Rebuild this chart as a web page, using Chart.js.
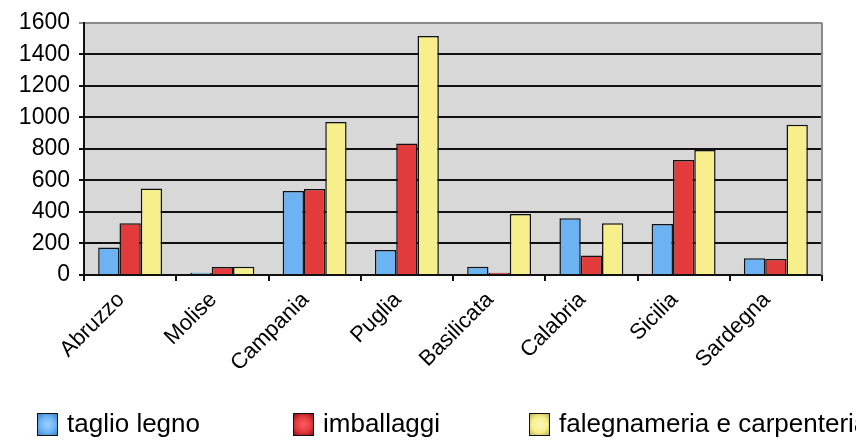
<!DOCTYPE html>
<html>
<head>
<meta charset="utf-8">
<script src="https://cdn.jsdelivr.net/npm/chart.js@4/dist/chart.umd.min.js"></script>
<style>
  html, body { margin: 0; padding: 0; background: #fff; }
  #wrap { position: relative; width: 856px; height: 441px; overflow: hidden; }
  #legend { position: absolute; left: 0; top: 0; width: 856px; height: 441px; pointer-events: none; }
  .item { position: absolute; top: 406px; white-space: nowrap; font-family: "Liberation Sans", Arial, sans-serif; font-size: 26px; color: #000; }
  .item .box { position: absolute; left: 0; top: 7px; width: 21px; height: 23px; border: 1.5px solid #111; box-sizing: border-box; }
  .item .txt { position: absolute; left: 30px; top: 0; line-height: 34px; }
</style>
</head>
<body>
<div id="wrap">
  <canvas id="chart" width="856" height="441"></canvas>
  <div id="legend"></div>
</div>
<script>
const regions = ["Abruzzo", "Molise", "Campania", "Puglia", "Basilicata", "Calabria", "Sicilia", "Sardegna"];
const taglioLegno = [175, 15, 533, 158, 53, 360, 323, 106];
const imballaggi = [328, 50, 545, 835, 15, 123, 729, 101];
const falegnameria = [548, 52, 970, 1516, 387, 328, 793, 953];
const yTicks = [0, 200, 400, 600, 800, 1000, 1200, 1400, 1600];

const seriesNames = ["taglio legno", "imballaggi", "falegnameria e carpenteria"];
const seriesColors = ["#6cb3f4", "#e33b3c", "#f7ef8b"];
const legendX = [37, 293, 529];
const legendGlow = ["#9fd0ff", "#ff5a66", "#fbf7c0"];
const legendEdge = ["#3d7fc4", "#8a1020", "#b8b25a"];

// plot area fill and the grey frame on the right
const plotFrame = {
  id: "plotFrame",
  beforeDraw(chart) {
    const { ctx, chartArea: a } = chart;
    ctx.save();
    ctx.fillStyle = "#d8d8d8";
    ctx.fillRect(a.left, a.top, a.right - a.left, a.bottom - a.top);
    ctx.restore();
  },
  afterDraw(chart) {
    const { ctx, chartArea: a } = chart;
    ctx.save();
    ctx.strokeStyle = "#8a8a8a";
    ctx.lineWidth = 2;
    ctx.beginPath();
    ctx.moveTo(a.right, a.top);
    ctx.lineTo(a.right, a.bottom);
    ctx.stroke();
    ctx.restore();
  }
};

const datasets = [taglioLegno, imballaggi, falegnameria].map((vals, i) => ({
  label: seriesNames[i],
  data: vals,
  backgroundColor: seriesColors[i],
  borderColor: "#111",
  borderWidth: 1.5,
  categoryPercentage: 0.693,
  barPercentage: 1.0
}));

new Chart(document.getElementById("chart"), {
  type: "bar",
  data: { labels: regions, datasets: datasets },
  plugins: [plotFrame],
  options: {
    responsive: false,
    animation: false,
    layout: { padding: { top: 22, right: 34, left: 0, bottom: 0 } },
    plugins: { legend: { display: false }, tooltip: { enabled: false } },
    scales: {
      x: {
        grid: { display: true, drawOnChartArea: false, drawTicks: true, tickLength: 6, color: "#111", lineWidth: 2, offset: true },
        border: { display: true, color: "#111", width: 2 },
        ticks: {
          color: "#000",
          font: { family: "'Liberation Sans', Arial, sans-serif", size: 22 },
          minRotation: 45,
          maxRotation: 45,
          padding: 6,
          labelOffset: -9
        },
        afterFit: (scale) => { scale.height = 166; }
      },
      y: {
        min: 0,
        max: 1600,
        afterBuildTicks: (scale) => { scale.ticks = yTicks.map((v) => ({ value: v })); },
        grid: {
          color: (c) => (c.tick && c.tick.value === 1600 ? "#8a8a8a" : "#111"),
          lineWidth: 2,
          tickLength: 5,
          drawTicks: true
        },
        border: { display: true, color: "#111", width: 2 },
        ticks: {
          color: "#000",
          font: { family: "'Liberation Sans', Arial, sans-serif", size: 23 },
          padding: 9,
          callback: (v) => String(v)
        },
        afterFit: (scale) => { scale.width = 84; }
      }
    }
  }
});

// legend row under the chart
const legend = document.getElementById("legend");
seriesNames.forEach((name, i) => {
  const item = document.createElement("div");
  item.className = "item";
  item.style.left = legendX[i] + "px";
  const box = document.createElement("span");
  box.className = "box";
  box.style.background = "radial-gradient(circle at 50% 50%, " + legendGlow[i] + " 0%, " + seriesColors[i] + " 55%, " + legendEdge[i] + " 100%)";
  const txt = document.createElement("span");
  txt.className = "txt";
  txt.textContent = name;
  item.appendChild(box);
  item.appendChild(txt);
  legend.appendChild(item);
});
</script>
</body>
</html>
